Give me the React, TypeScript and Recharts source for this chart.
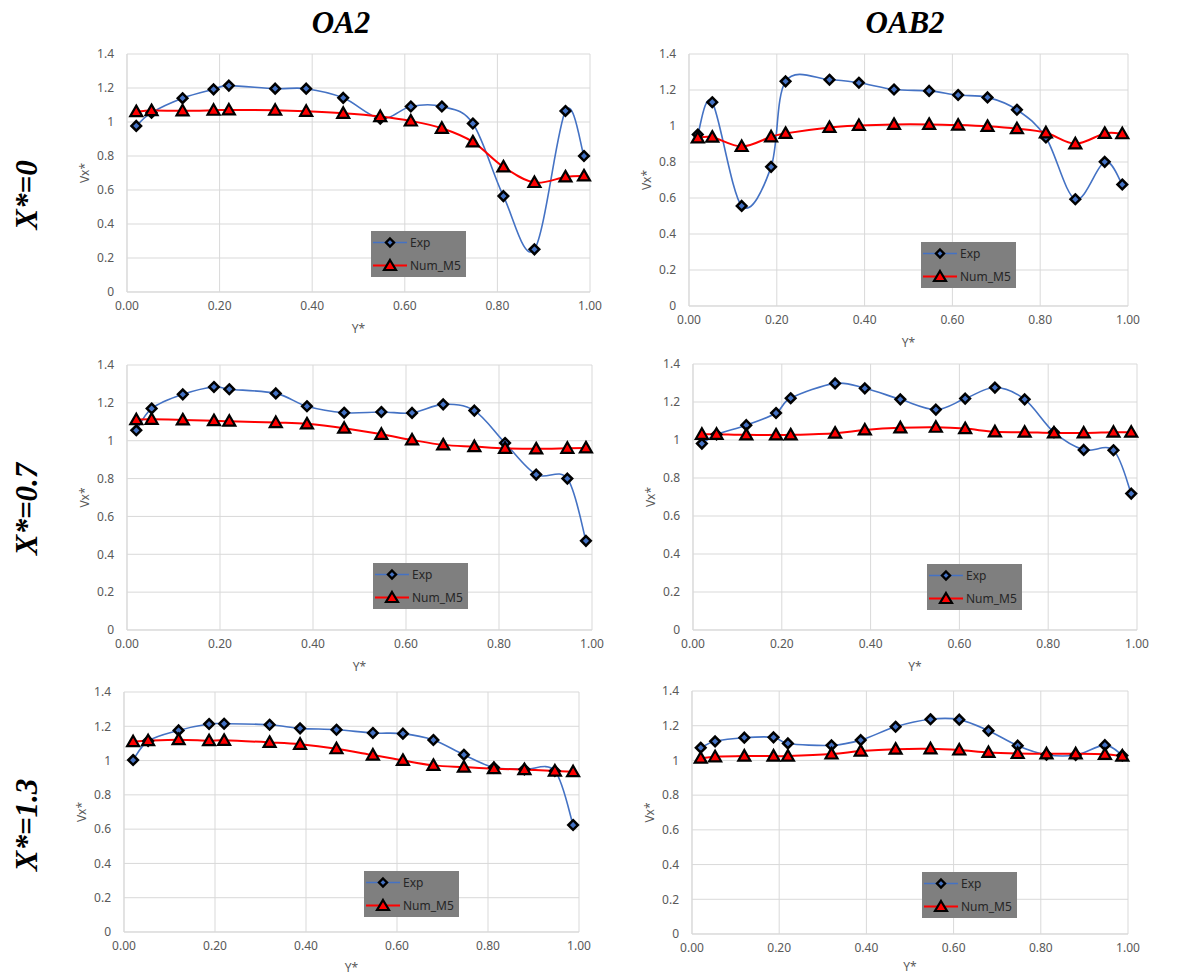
import React from 'react';
import { LineChart, Line, XAxis, YAxis, CartesianGrid, Legend } from 'recharts';

const yStar = [0.02, 0.053, 0.12, 0.187, 0.22, 0.32, 0.387, 0.467, 0.547, 0.613, 0.68, 0.747, 0.813, 0.88, 0.947, 0.987];
const xTicks = [0, 0.2, 0.4, 0.6, 0.8, 1.0];
const yTicks = [0, 0.2, 0.4, 0.6, 0.8, 1.0, 1.2, 1.4];
const seriesNames = ['Exp', 'Num_M5'];
const columnTitles = ['OA2', 'OAB2'];
const rowTitles = ['X*=0', 'X*=0.7', 'X*=1.3'];

const oa2X0Exp = [0.977, 1.055, 1.14, 1.192, 1.214, 1.196, 1.196, 1.142, 1.02, 1.091, 1.091, 0.991, 0.564, 0.251, 1.065, 0.8];
const oa2X0Num = [1.061, 1.067, 1.066, 1.069, 1.071, 1.069, 1.063, 1.051, 1.032, 1.006, 0.963, 0.883, 0.736, 0.644, 0.677, 0.683];
const oab2X0Exp = [0.953, 1.132, 0.556, 0.773, 1.248, 1.257, 1.24, 1.203, 1.195, 1.172, 1.159, 1.09, 0.936, 0.593, 0.801, 0.675];
const oab2X0Num = [0.934, 0.938, 0.886, 0.94, 0.959, 0.992, 1.003, 1.009, 1.009, 1.005, 0.998, 0.985, 0.962, 0.901, 0.959, 0.957];
const oa2X07Exp = [1.055, 1.17, 1.245, 1.284, 1.272, 1.25, 1.182, 1.148, 1.152, 1.147, 1.192, 1.159, 0.988, 0.821, 0.8, 0.471];
const oa2X07Num = [1.111, 1.113, 1.11, 1.106, 1.103, 1.096, 1.089, 1.066, 1.034, 1.004, 0.978, 0.969, 0.96, 0.957, 0.96, 0.962];
const oab2X07Exp = [0.981, 1.029, 1.078, 1.142, 1.22, 1.298, 1.272, 1.214, 1.16, 1.218, 1.276, 1.214, 1.041, 0.948, 0.946, 0.718];
const oab2X07Num = [1.03, 1.03, 1.027, 1.027, 1.027, 1.036, 1.053, 1.064, 1.067, 1.06, 1.043, 1.041, 1.037, 1.037, 1.041, 1.041];
const oa2X13Exp = [1.003, 1.114, 1.176, 1.213, 1.215, 1.209, 1.188, 1.18, 1.161, 1.157, 1.12, 1.034, 0.959, 0.949, 0.939, 0.624];
const oa2X13Num = [1.11, 1.116, 1.122, 1.116, 1.118, 1.106, 1.095, 1.069, 1.032, 1.001, 0.972, 0.962, 0.953, 0.947, 0.939, 0.935];
const oab2X13Exp = [1.073, 1.11, 1.131, 1.133, 1.098, 1.087, 1.117, 1.194, 1.237, 1.235, 1.171, 1.085, 1.033, 1.031, 1.088, 1.029];
const oab2X13Num = [1.013, 1.021, 1.025, 1.025, 1.025, 1.037, 1.054, 1.065, 1.067, 1.06, 1.046, 1.04, 1.038, 1.038, 1.035, 1.025];

const EXP_COLOR = '#4472C4';
const NUM_COLOR = '#FF0000';
const TICK_COLOR = '#595959';
const GRID_COLOR = '#d9d9d9';
const FONT = '"Noto Sans", "Liberation Sans", sans-serif';
const TITLE_FONT = '"Liberation Serif", "DejaVu Serif", serif';

// Excel-like smoothed line (Catmull-Rom style Bezier)
function excelCurve(context: any) {
  let pts: number[][] = [];
  return {
    areaStart() {},
    areaEnd() {},
    lineStart() {
      pts = [];
    },
    point(x: number, y: number) {
      pts.push([+x, +y]);
    },
    lineEnd() {
      const n = pts.length;
      if (!n) return;
      context.moveTo(pts[0][0], pts[0][1]);
      if (n === 1) return;
      for (let i = 0; i < n - 1; i++) {
        const p0 = pts[i - 1] || pts[i];
        const p1 = pts[i];
        const p2 = pts[i + 1];
        const p3 = pts[i + 2] || p2;
        const c1x = p1[0] + (p2[0] - p0[0]) / 6;
        const c1y = p1[1] + (p2[1] - p0[1]) / 6;
        const c2x = p2[0] - (p3[0] - p1[0]) / 6;
        const c2y = p2[1] - (p3[1] - p1[1]) / 6;
        context.bezierCurveTo(c1x, c1y, c2x, c2y, p2[0], p2[1]);
      }
    },
  };
}

const DiamondDot = (props: any) => {
  const { cx, cy, index } = props;
  if (cx == null || cy == null) return <g key={`d-${index}`} />;
  const r = 4.8;
  return (
    <path
      key={`d-${index}`}
      d={`M${cx},${cy - r}L${cx + r},${cy}L${cx},${cy + r}L${cx - r},${cy}Z`}
      fill={EXP_COLOR}
      stroke="#000"
      strokeWidth={2.5}
    />
  );
};

const TriangleDot = (props: any) => {
  const { cx, cy, index } = props;
  if (cx == null || cy == null) return <g key={`t-${index}`} />;
  return (
    <path
      key={`t-${index}`}
      d={`M${cx},${cy - 6}L${cx + 6},${cy + 4.5}L${cx - 6},${cy + 4.5}Z`}
      fill={NUM_COLOR}
      stroke="#000"
      strokeWidth={2.2}
      strokeLinejoin="miter"
    />
  );
};

const LegendBox = () => (
  <div
    style={{
      width: 95,
      height: 46,
      background: '#7f7f7f',
      fontFamily: FONT,
      fontSize: 12,
      color: '#262626',
      position: 'relative',
    }}
  >
    {seriesNames.map((name, i) => (
      <div key={name} style={{ position: 'absolute', left: 0, top: i === 0 ? 2 : 25, height: 19, width: 95 }}>
        <svg width={38} height={19} style={{ position: 'absolute', left: 0, top: 0 }}>
          <line x1={2} y1={9.5} x2={36} y2={9.5} stroke={i === 0 ? EXP_COLOR : NUM_COLOR} strokeWidth={i === 0 ? 1.5 : 2} />
          {i === 0 ? (
            <path d="M19,5.5L23,9.5L19,13.5L15,9.5Z" fill={EXP_COLOR} stroke="#000" strokeWidth={2.4} />
          ) : (
            <path d="M19,4L25,14L13,14Z" fill={NUM_COLOR} stroke="#000" strokeWidth={2.2} />
          )}
        </svg>
        <span style={{ position: 'absolute', left: 39, top: 1, lineHeight: '17px', whiteSpace: 'nowrap' }}>{name}</span>
      </div>
    ))}
  </div>
);

type PanelDef = {
  exp: number[];
  num: number[];
  x0: number;
  x1: number;
  yTop: number;
  yBot: number;
  legX: number;
  legY: number;
  labelOffset: number;
};

const panels: PanelDef[] = [
  { exp: oa2X0Exp, num: oa2X0Num, x0: 127, x1: 590, yTop: 54, yBot: 292, legX: 371, legY: 231, labelOffset: 1 },
  { exp: oab2X0Exp, num: oab2X0Num, x0: 689, x1: 1128, yTop: 54, yBot: 306, legX: 921, legY: 242, labelOffset: 1 },
  { exp: oa2X07Exp, num: oa2X07Num, x0: 127, x1: 592, yTop: 365, yBot: 630, legX: 373, legY: 563, labelOffset: 1 },
  { exp: oab2X07Exp, num: oab2X07Num, x0: 693, x1: 1137, yTop: 364, yBot: 630, legX: 927, legY: 564, labelOffset: 1 },
  { exp: oa2X13Exp, num: oa2X13Num, x0: 124, x1: 579, yTop: 692, yBot: 932, legX: 364, legY: 871, labelOffset: 2 },
  { exp: oab2X13Exp, num: oab2X13Num, x0: 692, x1: 1128, yTop: 691, yBot: 934, legX: 922, legY: 872, labelOffset: 5 },
];

const Y_AXIS_W = 48;
const MARGIN_TOP = 10;
const MARGIN_RIGHT = 16;
const MARGIN_LEFT = 10;
const X_AXIS_H = 42;
const PAGE_H = 976;

const fmtY = (v: number) => String(Math.round(v * 10) / 10);
const fmtX = (v: number) => v.toFixed(2);

const Panel = ({ p }: { p: PanelDef }) => {
  const left = p.x0 - Y_AXIS_W - MARGIN_LEFT;
  const top = p.yTop - MARGIN_TOP;
  const width = p.x1 - p.x0 + Y_AXIS_W + MARGIN_LEFT + MARGIN_RIGHT;
  const base = p.yBot - p.yTop + MARGIN_TOP + X_AXIS_H;
  const marginBottom = Math.max(0, Math.min(6, PAGE_H - (top + base)));
  const height = base + marginBottom;
  const data = yStar.map((y, i) => ({ y, exp: p.exp[i], num: p.num[i] }));
  return (
    <div style={{ position: 'absolute', left, top, width, height }}>
      <LineChart
        width={width}
        height={height}
        data={data}
        margin={{ top: MARGIN_TOP, right: MARGIN_RIGHT, left: MARGIN_LEFT, bottom: marginBottom }}
      >
        <CartesianGrid stroke={GRID_COLOR} strokeWidth={1} />
        <XAxis
          dataKey="y"
          type="number"
          domain={[0, 1]}
          ticks={xTicks}
          tickFormatter={fmtX}
          height={X_AXIS_H}
          axisLine={{ stroke: GRID_COLOR }}
          tickLine={false}
          tickSize={0}
          tickMargin={9}
          tick={{ fill: TICK_COLOR, fontSize: 12, fontFamily: FONT }}
          interval={0}
          label={{ value: 'Y*', position: 'insideBottom', offset: p.labelOffset, fill: TICK_COLOR, fontSize: 12, fontFamily: FONT }}
        />
        <YAxis
          type="number"
          domain={[0, 1.4]}
          ticks={yTicks}
          tickFormatter={fmtY}
          width={Y_AXIS_W}
          axisLine={{ stroke: GRID_COLOR }}
          tickLine={false}
          tickSize={0}
          tickMargin={13}
          interval={0}
          tick={{ fill: TICK_COLOR, fontSize: 12, fontFamily: FONT }}
          label={{
            value: 'Vx*',
            angle: -90,
            position: 'insideLeft',
            offset: 6,
            fill: TICK_COLOR,
            fontSize: 12,
            fontFamily: FONT,
            style: { textAnchor: 'middle' },
          }}
        />
        <Legend
          verticalAlign="middle"
          align="center"
          layout="horizontal"
          content={() => <LegendBox />}
          wrapperStyle={{ left: p.legX - left, top: p.legY - top, width: 95, height: 46, bottom: 'auto', right: 'auto' }}
        />
        <Line
          dataKey="exp"
          name={seriesNames[0]}
          type={excelCurve as any}
          stroke={EXP_COLOR}
          strokeWidth={1.6}
          dot={DiamondDot}
          activeDot={false}
          isAnimationActive={false}
        />
        <Line
          dataKey="num"
          name={seriesNames[1]}
          type={excelCurve as any}
          stroke={NUM_COLOR}
          strokeWidth={2}
          dot={TriangleDot}
          activeDot={false}
          isAnimationActive={false}
        />
      </LineChart>
    </div>
  );
};

const titleStyle: React.CSSProperties = {
  position: 'absolute',
  fontFamily: TITLE_FONT,
  fontWeight: 'bold',
  fontStyle: 'italic',
  fontSize: 31,
  lineHeight: '31px',
  color: '#000',
  whiteSpace: 'nowrap',
  transform: 'translate(-50%, -50%)',
};

const colCenters = [341, 905];
const rowCenters = [195, 509, 825];

export default function App() {
  return (
    <div style={{ position: 'absolute', left: 0, top: 0, width: 1193, height: PAGE_H, background: '#fff', overflow: 'hidden' }}>
      {columnTitles.map((t, i) => (
        <div key={t} style={{ ...titleStyle, left: colCenters[i], top: 22 }}>
          {t}
        </div>
      ))}
      {rowTitles.map((t, i) => (
        <div key={t} style={{ ...titleStyle, left: 26, top: rowCenters[i], transform: 'translate(-50%, -50%) rotate(-90deg)' }}>
          {t}
        </div>
      ))}
      {panels.map((p, i) => (
        <Panel key={i} p={p} />
      ))}
    </div>
  );
}
